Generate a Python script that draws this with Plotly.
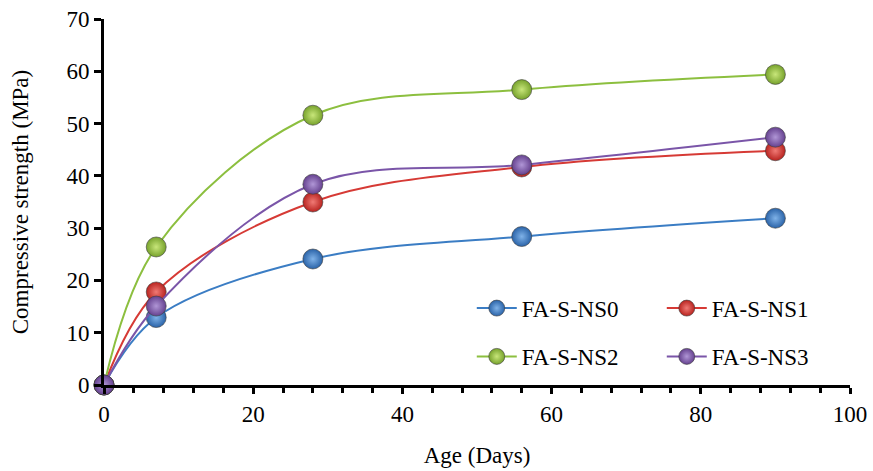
import plotly.graph_objects as go

age_days = [0, 7, 28, 56, 90]
ns0 = [0, 12.9, 24.1, 28.4, 31.9]
ns1 = [0, 17.8, 35.0, 41.7, 44.8]
ns2 = [0, 26.4, 51.6, 56.5, 59.4]
ns3 = [0, 15.1, 38.4, 42.1, 47.4]

series = [
    ("FA-S-NS0", ns0, "#3b7dc4", "#7fb2e8", "#2a63a8", "legend"),
    ("FA-S-NS1", ns1, "#d63a35", "#f07a75", "#b8231f", "legend"),
    ("FA-S-NS2", ns2, "#8cbf3f", "#c8e67a", "#77a22c", "legend2"),
    ("FA-S-NS3", ns3, "#7a55a8", "#b096d6", "#65418f", "legend2"),
]

FONT = "Liberation Serif"
fig = go.Figure()
for name, vals, lc, light, dark, lg in series:
    fig.add_trace(go.Scatter(
        x=age_days, y=vals, name=name, mode="lines+markers",
        line=dict(color=lc, width=2, shape="spline", smoothing=1.0),
        marker=dict(size=20, color=dark, gradient=dict(type="radial", color=light),
                    line=dict(color="rgba(60,60,60,0.6)", width=1)),
        legend=lg, cliponaxis=False,
    ))

legend_common = dict(orientation="h", xanchor="left", yanchor="middle",
                     entrywidth=135, entrywidthmode="pixels", bgcolor="rgba(0,0,0,0)",
                     font=dict(family=FONT, size=23), itemwidth=40)

fig.update_layout(
    width=873, height=471,
    margin=dict(l=104, r=23, t=19, b=86, autoexpand=False),
    paper_bgcolor="white", plot_bgcolor="white",
    font=dict(family=FONT, size=23, color="black"),
    showlegend=True,
    legend=dict(x=0.493, y=0.21, **legend_common),
    legend2=dict(x=0.493, y=0.078, **legend_common),
    xaxis=dict(
        range=[0, 100], tickvals=[0, 20, 40, 60, 80, 100], ticklabeloverflow="allow",
        showline=True, linecolor="black", linewidth=3, showgrid=False, zeroline=False,
        ticks="outside", ticklen=6, tickwidth=3, tickcolor="black",
        minor=dict(dtick=4, tick0=0, ticks="outside", ticklen=5, tickwidth=3, tickcolor="black", showgrid=False),
        title=dict(text="Age (Days)", font=dict(family=FONT, size=23), standoff=22),
        tickfont=dict(family=FONT, size=23),
    ),
    yaxis=dict(
        range=[0, 70], dtick=10, ticklabeloverflow="allow",
        showline=True, linecolor="black", linewidth=3, showgrid=False, zeroline=False,
        ticks="outside", ticklen=7, tickwidth=3, tickcolor="black",
        title=dict(text="Compressive strength (MPa)", font=dict(family=FONT, size=23), standoff=32),
        tickfont=dict(family=FONT, size=23),
    ),
)

fig.write_html(
    "out.html",
    config={"displayModeBar": False},
    post_script="document.body.style.margin='0';document.body.style.overflow='hidden';",
)
